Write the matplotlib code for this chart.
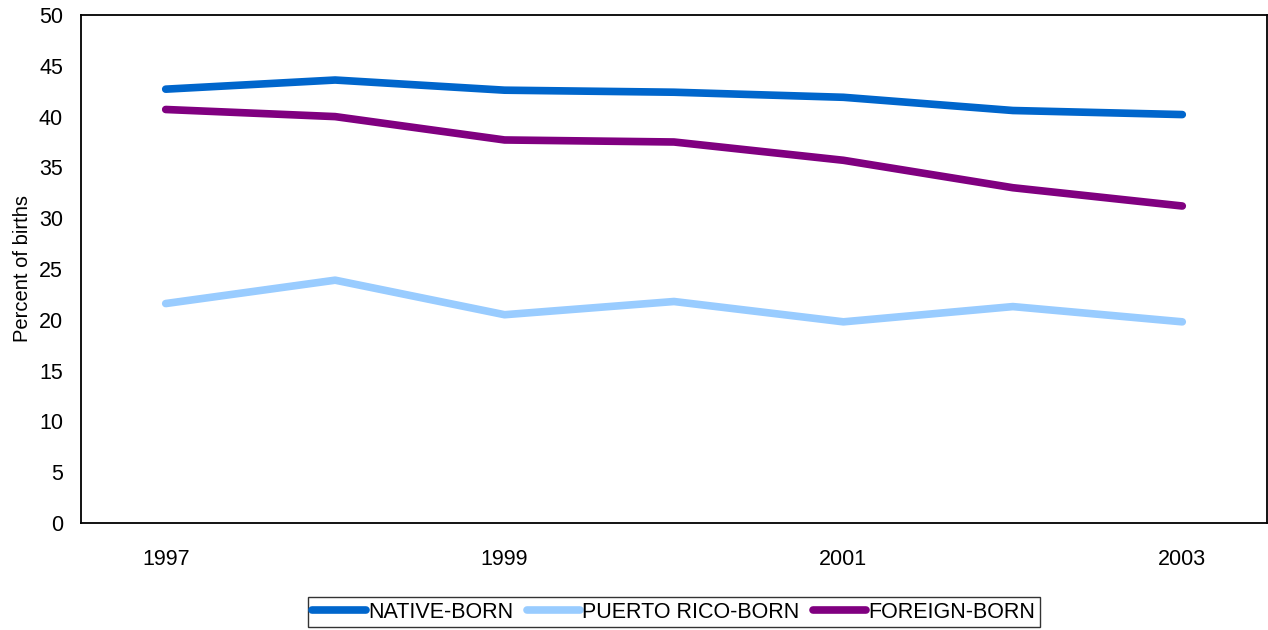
import matplotlib
matplotlib.use("Agg")
import matplotlib.pyplot as plt

plt.rcParams['font.family'] = ['Liberation Sans', 'DejaVu Sans']

# Percent of births, by mother's birthplace
years = [1997, 1998, 1999, 2000, 2001, 2002, 2003]
native_born = [42.7, 43.6, 42.6, 42.4, 41.9, 40.6, 40.2]
puerto_rico_born = [21.6, 23.9, 20.5, 21.8, 19.8, 21.3, 19.8]
foreign_born = [40.7, 40.0, 37.7, 37.5, 35.7, 33.0, 31.2]
tick_years = [1997, 1999, 2001, 2003]

fig = plt.figure(figsize=(12.68, 6.3), dpi=100)
ax = fig.add_axes([81 / 1268, 1 - 523 / 630, (1267 - 81) / 1268, (523 - 15) / 630])

lw = 5.5
ax.plot(years, native_born, color='#0066CC', lw=lw, solid_capstyle='round', label='NATIVE-BORN')
ax.plot(years, puerto_rico_born, color='#99CCFF', lw=lw, solid_capstyle='round', label='PUERTO RICO-BORN')
ax.plot(years, foreign_born, color='#800080', lw=lw, solid_capstyle='round', label='FOREIGN-BORN')

ax.set_xlim(1996.5, 2003.5)
ax.set_ylim(0, 50)
ax.set_yticks(range(0, 51, 5))
ax.set_xticks(tick_years)
ax.tick_params(length=0, labelsize=15.5)
ax.tick_params(axis='y', pad=13)
ax.tick_params(axis='x', pad=19)
ax.set_ylabel('Percent of births', fontsize=14.5, labelpad=5)
for s in ax.spines.values():
    s.set_linewidth(1.3)

leg = ax.legend(loc='upper center', bbox_to_anchor=(0.5, -0.125), ncol=3, frameon=True,
                fancybox=False, edgecolor='black', fontsize=15.5, handlelength=2.5,
                handletextpad=0.1, columnspacing=0.6, borderpad=0.2)
leg.get_frame().set_linewidth(1.0)

fig.savefig('out.png', dpi=100)
